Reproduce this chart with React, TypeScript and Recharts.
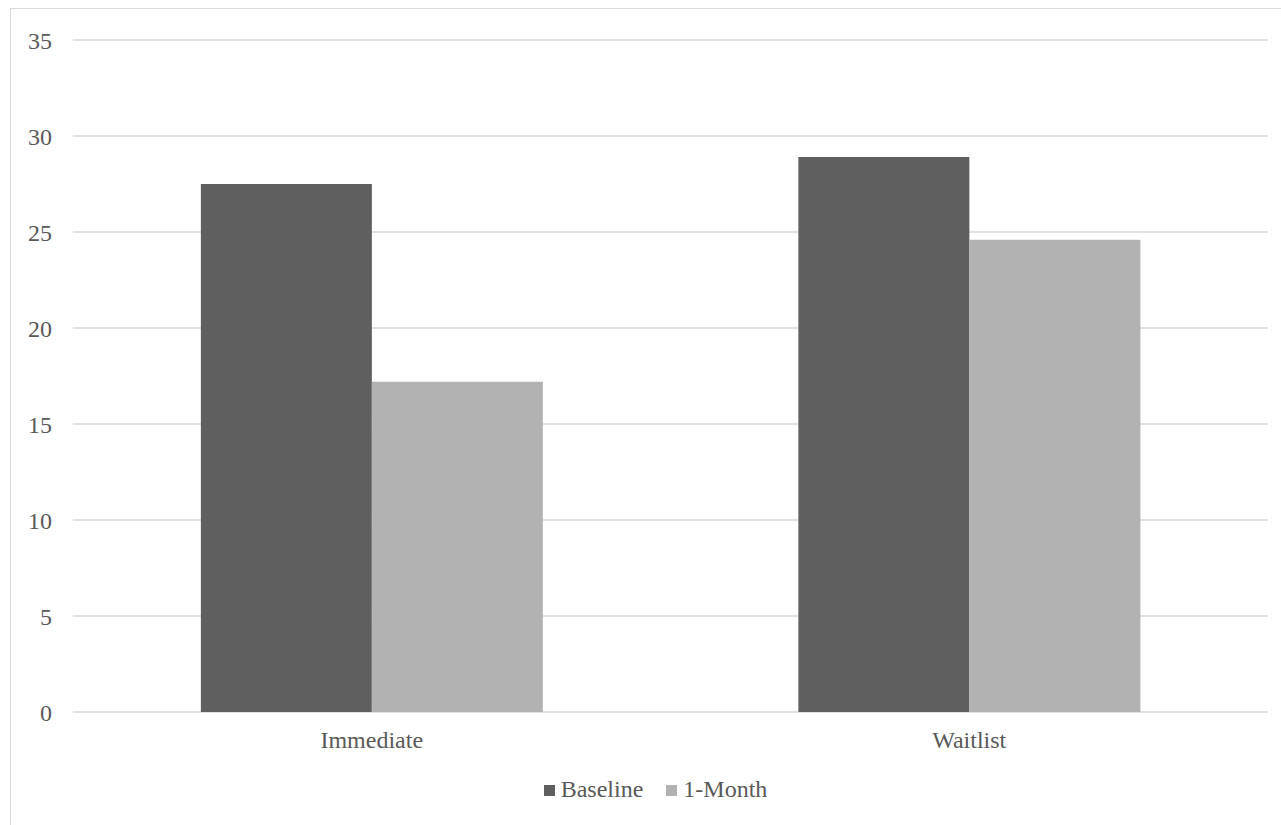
import React from "react";
import { BarChart, Bar, XAxis, YAxis, CartesianGrid, Legend } from "recharts";

// Groups along the x axis
const groups = ["Immediate", "Waitlist"];
// Mean scores per group at each time point
const baselineValues = [27.5, 28.9];
const oneMonthValues = [17.2, 24.6];
// Value axis ticks
const yTicks = [0, 5, 10, 15, 20, 25, 30, 35];

const seriesKeys = ["baseline", "oneMonth"];
const seriesNames = ["Baseline", "1-Month"];
const seriesColors = ["#5f5f5f", "#b2b2b2"];

const data = groups.map((g, i) => ({
  group: g,
  baseline: baselineValues[i],
  oneMonth: oneMonthValues[i],
}));

const FONT = "Liberation Serif";
const TEXT_COLOR = "#595959";

const LegendContent = () => (
  <div
    style={{
      display: "flex",
      justifyContent: "center",
      alignItems: "center",
      fontFamily: FONT,
      fontSize: 24,
      color: TEXT_COLOR,
      gap: 23,
      paddingLeft: 30,
    }}
  >
    {seriesNames.map((name, i) => (
      <div key={name} style={{ display: "flex", alignItems: "center" }}>
        <span
          style={{
            display: "inline-block",
            width: 11,
            height: 11,
            background: seriesColors[i],
            marginRight: 6,
            marginTop: 2,
          }}
        />
        <span>{name}</span>
      </div>
    ))}
  </div>
);

export default function App() {
  return (
    <div
      style={{
        position: "absolute",
        left: 0,
        top: 0,
        width: 1281,
        height: 825,
        overflow: "hidden",
        background: "#ffffff",
        fontFamily: FONT,
      }}
    >
      <div
        style={{
          position: "absolute",
          left: 10,
          top: 8,
          width: 1300,
          height: 840,
          border: "1px solid #d9d9d9",
          boxSizing: "border-box",
        }}
      />
      <div style={{ position: "absolute", left: 0, top: 0 }}>
        <BarChart
          width={1281}
          height={825}
          data={data}
          margin={{ top: 40, right: 13, left: 0, bottom: 73 }}
          barCategoryGap="21.4%"
          barGap={0}
          style={{ fontFamily: FONT }}
        >
          <CartesianGrid vertical={false} stroke="#d9d9d9" strokeWidth={1.4} />
          <XAxis
            dataKey="group"
            height={40}
            axisLine={false}
            tickLine={false}
            tickSize={0}
            tickMargin={19}
            tick={{ fontFamily: FONT, fontSize: 24, fill: TEXT_COLOR }}
          />
          <YAxis
            width={73}
            domain={[0, 35]}
            ticks={yTicks}
            axisLine={false}
            tickLine={false}
            tickSize={0}
            tickMargin={21}
            tick={{ fontFamily: FONT, fontSize: 24, fill: TEXT_COLOR }}
          />
          <Legend
            verticalAlign="middle"
            align="center"
            layout="horizontal"
            wrapperStyle={{ top: 776, left: 0, width: 1281 }}
            content={<LegendContent />}
          />
          {seriesKeys.map((k, i) => (
            <Bar
              key={k}
              dataKey={k}
              name={seriesNames[i]}
              fill={seriesColors[i]}
              isAnimationActive={false}
            />
          ))}
        </BarChart>
      </div>
    </div>
  );
}
